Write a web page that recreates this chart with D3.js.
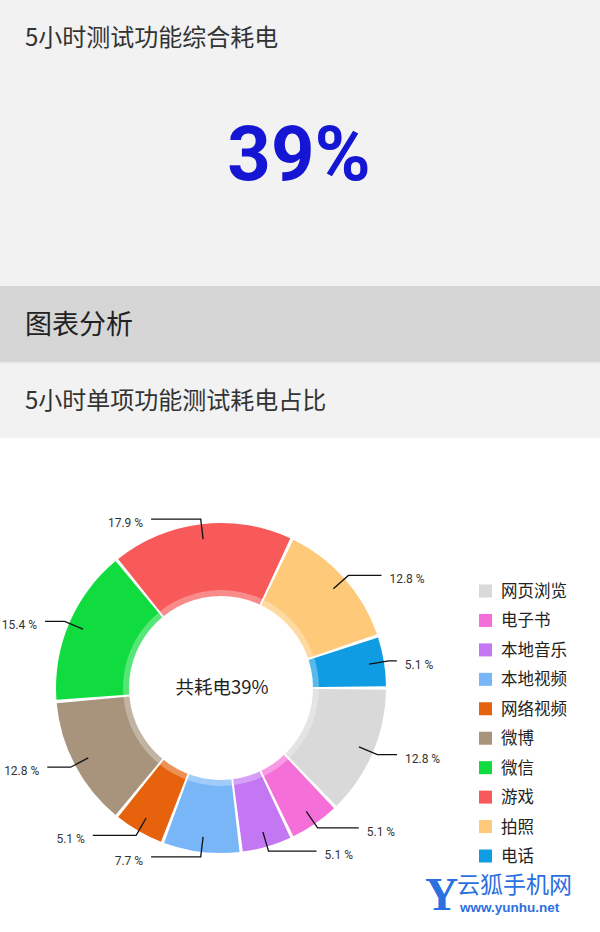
<!DOCTYPE html>
<html>
<head>
<meta charset="utf-8">
<script src="https://cdn.jsdelivr.net/npm/d3@7"></script>
<style>
  html, body { margin: 0; padding: 0; background: #fff; }
  svg { display: block; font-family: "Noto Sans CJK SC", "Noto Sans", sans-serif; }
</style>
</head>
<body>
<div id="chart"></div>
<script>
// data
var categories = ["网页浏览", "电子书", "本地音乐", "本地视频", "网络视频", "微博", "微信", "游戏", "拍照", "电话"];
var shares = [12.8, 5.1, 5.1, 7.7, 5.1, 12.8, 15.4, 17.9, 12.8, 5.1];
var colors = ["#d9d9d9", "#f56fd8", "#c477f2", "#78b6f8", "#e6620c", "#a8947d", "#10db3f", "#f85a5a", "#fec978", "#109ce2"];
var totalLabel = "39%";

var width = 600, height = 932;

var svg = d3.select("#chart").append("svg")
  .attr("width", width)
  .attr("height", height);

// header blocks
svg.append("rect").attr("x", 0).attr("y", 0).attr("width", width).attr("height", 286).attr("fill", "#f2f2f2");
svg.append("rect").attr("x", 0).attr("y", 286).attr("width", width).attr("height", 76).attr("fill", "#d6d6d6");
svg.append("rect").attr("x", 0).attr("y", 362).attr("width", width).attr("height", 76).attr("fill", "#f2f2f2");
svg.append("rect").attr("x", 0).attr("y", 362).attr("width", width).attr("height", 2).attr("fill", "#ececec");

svg.append("text")
  .attr("x", 25).attr("y", 46)
  .attr("font-size", 24)
  .attr("fill", "#333")
  .text("5小时测试功能综合耗电");

svg.append("text")
  .attr("x", 299).attr("y", 180)
  .attr("text-anchor", "middle")
  .attr("font-family", "Roboto, 'Liberation Sans', sans-serif")
  .attr("font-weight", "bold")
  .attr("font-size", 76)
  .attr("fill", "#1515d4")
  .text(totalLabel);

svg.append("text")
  .attr("x", 25).attr("y", 334)
  .attr("font-size", 27)
  .attr("fill", "#222")
  .text("图表分析");

svg.append("text")
  .attr("x", 25).attr("y", 409)
  .attr("font-size", 24)
  .attr("fill", "#333")
  .text("5小时单项功能测试耗电占比");

// donut
var cx = 221, cy = 688;
var outerR = 165, holeR = 92, glassR = 98;

var pie = d3.pie()
  .sort(null)
  .value(function(d) { return d; })
  .startAngle(Math.PI / 2)
  .endAngle(Math.PI / 2 + 2 * Math.PI);

var arcs = pie(shares);

var arc = d3.arc()
  .innerRadius(0)
  .outerRadius(outerR)
  .padAngle(0.02)
  .padRadius(outerR);

var g = svg.append("g")
  .attr("transform", "translate(" + cx + "," + cy + ")");

g.selectAll("path.slice")
  .data(arcs)
  .enter().append("path")
  .attr("class", "slice")
  .attr("d", arc)
  .attr("fill", function(d, i) { return colors[i]; });

g.append("circle").attr("r", glassR).attr("fill", "#fff").attr("opacity", 0.3);
g.append("circle").attr("r", holeR).attr("fill", "#fff");

g.append("text")
  .attr("x", 1).attr("y", 6)
  .attr("text-anchor", "middle")
  .attr("font-size", 18.5)
  .attr("fill", "#222")
  .text("共耗电" + totalLabel);

// value lines, angle measured clockwise from 3 o'clock
var r0 = 150, r1 = 170, line2 = 50, labelGap = 8;

function lineGeom(d) {
  var a = (d.startAngle + d.endAngle) / 2 - Math.PI / 2;
  var cs = Math.cos(a), sn = Math.sin(a);
  var deg = (a * 180 / Math.PI) % 360;
  var left = deg >= 90 && deg <= 270;
  var p0 = [r0 * cs, r0 * sn];
  var p1 = [r1 * cs, r1 * sn];
  var w = line2 * Math.abs(sn);
  var p2 = [p1[0] + (left ? -w : w), p1[1]];
  return { pts: [p0, p1, p2], left: left };
}

g.selectAll("path.vline")
  .data(arcs)
  .enter().append("path")
  .attr("class", "vline")
  .attr("d", function(d) { return d3.line()(lineGeom(d).pts); })
  .attr("fill", "none")
  .attr("stroke", "#111")
  .attr("stroke-width", 1.3);

g.selectAll("text.vlabel")
  .data(arcs)
  .enter().append("text")
  .attr("class", "vlabel")
  .attr("x", function(d) {
    var l = lineGeom(d);
    return l.pts[2][0] + (l.left ? -labelGap : labelGap);
  })
  .attr("y", function(d) { return lineGeom(d).pts[2][1] + 8; })
  .attr("text-anchor", function(d) { return lineGeom(d).left ? "end" : "start"; })
  .attr("font-family", "Roboto, 'Noto Sans', sans-serif")
  .attr("font-size", 12)
  .attr("fill", "#333")
  .text(function(d) { return d.value.toFixed(1) + " %"; });

// legend
var legendY = d3.scalePoint()
  .domain(categories)
  .range([591, 856]);

var legend = svg.append("g");

legend.selectAll("rect")
  .data(categories)
  .enter().append("rect")
  .attr("x", 479)
  .attr("y", function(d) { return legendY(d) - 6.5; })
  .attr("width", 13)
  .attr("height", 13)
  .attr("fill", function(d, i) { return colors[i]; });

legend.selectAll("text")
  .data(categories)
  .enter().append("text")
  .attr("x", 501)
  .attr("y", function(d) { return legendY(d) + 6; })
  .attr("font-size", 16.5)
  .attr("fill", "#222")
  .text(function(d) { return d; });

// watermark
var wm = svg.append("g");
wm.append("rect")
  .attr("x", 418).attr("y", 868).attr("width", 168).attr("height", 50)
  .attr("rx", 10)
  .attr("fill", "#fff")
  .attr("opacity", 0.9);
wm.append("text")
  .attr("x", 425).attr("y", 910)
  .attr("font-family", "'Liberation Serif', 'DejaVu Serif', serif")
  .attr("font-weight", "bold")
  .attr("font-size", 46)
  .attr("fill", "#2b6fe0")
  .text("Y");
wm.append("text")
  .attr("x", 457).attr("y", 893)
  .attr("font-size", 23)
  .attr("fill", "#2b6fe0")
  .text("云狐手机网");
wm.append("text")
  .attr("x", 460).attr("y", 912)
  .attr("font-family", "'Liberation Sans', Arial, sans-serif")
  .attr("font-weight", "bold")
  .attr("font-size", 13.5)
  .attr("fill", "#2b6fe0")
  .text("www.yunhu.net");
</script>
</body>
</html>
